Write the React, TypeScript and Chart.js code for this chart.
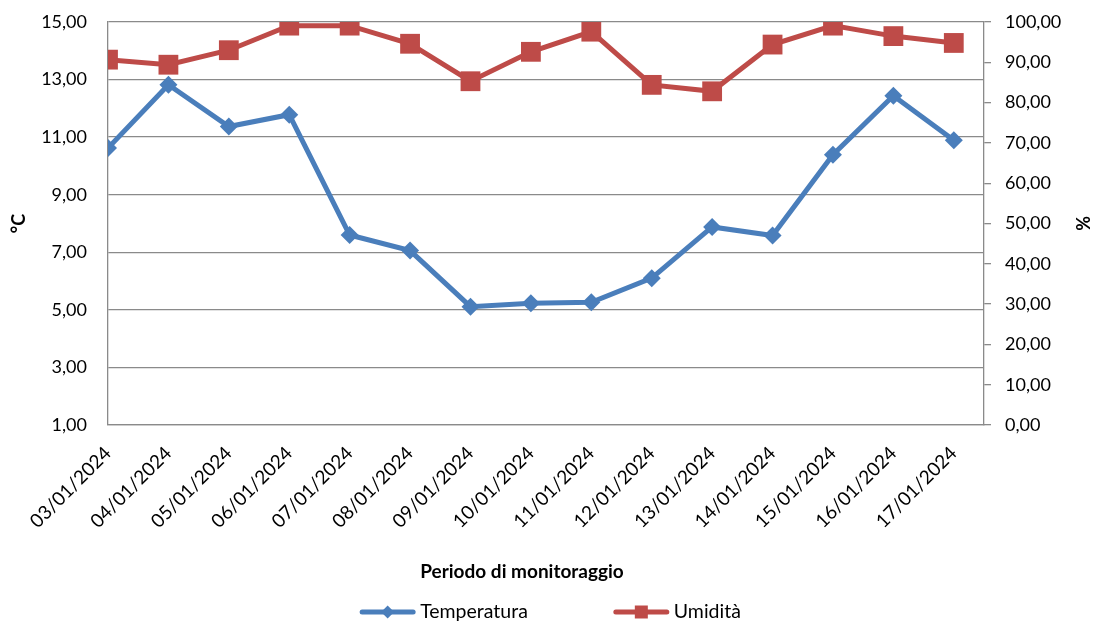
import React, { useEffect, useRef } from "react";
import { Chart, registerables } from "chart.js";

Chart.register(...registerables);

const dates = [
  "03/01/2024", "04/01/2024", "05/01/2024", "06/01/2024", "07/01/2024",
  "08/01/2024", "09/01/2024", "10/01/2024", "11/01/2024", "12/01/2024",
  "13/01/2024", "14/01/2024", "15/01/2024", "16/01/2024", "17/01/2024",
];
const temperatura = [10.62, 12.82, 11.37, 11.78, 7.6, 7.06, 5.11, 5.23, 5.26, 6.1, 7.88, 7.58, 10.39, 12.44, 10.89];
const umidita = [90.66, 89.4, 93.0, 99.1, 99.1, 94.6, 85.3, 92.6, 97.6, 84.4, 82.8, 94.4, 99.1, 96.5, 94.8];
const seriesNames = ["Temperatura", "Umidità"];
const xTitle = "Periodo di monitoraggio";
const leftTitle = "°C";
const rightTitle = "%";

const BLUE = "#4a7ebb";
const RED = "#be4b48";
const GRID = "#8a8a8a";
const FONT = "Lato";

const fmt = (v: number) => v.toFixed(2).replace(".", ",");

const overlayPlugin = {
  id: "overlay",
  afterDraw(chart: any) {
    const ctx = chart.ctx as CanvasRenderingContext2D;
    const area = chart.chartArea;
    ctx.save();
    // x axis title
    ctx.font = `bold 19px ${FONT}`;
    ctx.fillStyle = "#000";
    ctx.textAlign = "center";
    ctx.textBaseline = "middle";
    ctx.fillText(xTitle, (area.left + area.right) / 2 - 24, area.bottom + 147);

    // legend
    ctx.font = `19.5px ${FONT}`;
    const sampleW = 55;
    const gapText = 5;
    const gapItem = 86;
    const w0 = ctx.measureText(seriesNames[0]).width;
    const w1 = ctx.measureText(seriesNames[1]).width;
    const total = sampleW + gapText + w0 + gapItem + sampleW + gapText + w1;
    let x = chart.width / 2 - total / 2 + 2;
    const y = area.bottom + 187;
    const items = [
      { name: seriesNames[0], color: BLUE, shape: "diamond", w: w0 },
      { name: seriesNames[1], color: RED, shape: "square", w: w1 },
    ];
    items.forEach((it) => {
      ctx.strokeStyle = it.color;
      ctx.lineWidth = 5;
      ctx.lineCap = "round";
      ctx.beginPath();
      ctx.moveTo(x + 2, y);
      ctx.lineTo(x + sampleW - 2, y);
      ctx.stroke();
      ctx.fillStyle = it.color;
      const cx = x + sampleW / 2;
      ctx.beginPath();
      if (it.shape === "diamond") {
        ctx.moveTo(cx, y - 6.5);
        ctx.lineTo(cx + 6.5, y);
        ctx.lineTo(cx, y + 6.5);
        ctx.lineTo(cx - 6.5, y);
        ctx.closePath();
      } else {
        ctx.rect(cx - 6.5, y - 6.5, 13, 13);
      }
      ctx.fill();
      ctx.fillStyle = "#000";
      ctx.textAlign = "left";
      ctx.textBaseline = "middle";
      ctx.fillText(it.name, x + sampleW + gapText, y);
      x += sampleW + gapText + it.w + gapItem;
    });
    ctx.restore();
  },
};

export default function App() {
  const ref = useRef<HTMLCanvasElement | null>(null);
  useEffect(() => {
    if (!ref.current) return;
    const chart = new Chart(ref.current, {
      type: "line",
      data: {
        datasets: [
          {
            label: seriesNames[0],
            data: temperatura.map((v, i) => ({ x: i, y: v })),
            yAxisID: "y",
            borderColor: BLUE,
            backgroundColor: BLUE,
            borderWidth: 5,
            pointStyle: "rectRot",
            pointRadius: 9,
            pointBorderWidth: 0,
            pointBackgroundColor: BLUE,
            tension: 0,
          },
          {
            label: seriesNames[1],
            data: umidita.map((v, i) => ({ x: i, y: v })),
            yAxisID: "y1",
            borderColor: RED,
            backgroundColor: RED,
            borderWidth: 5,
            pointStyle: "rect",
            pointRadius: 14,
            pointBorderWidth: 0,
            pointBackgroundColor: RED,
            tension: 0,
          },
        ],
      },
      plugins: [overlayPlugin],
      options: {
        animation: false,
        responsive: true,
        maintainAspectRatio: false,
        layout: { padding: { top: 22, bottom: 0, left: 0, right: 0 } },
        plugins: {
          legend: { display: false },
          tooltip: { enabled: false },
        },
        scales: {
          x: {
            type: "linear",
            position: "bottom",
            min: 0,
            max: 14.5,
            afterBuildTicks: (scale: any) => {
              scale.ticks = dates.map((_, i) => ({ value: i }));
            },
            afterFit: (scale: any) => {
              scale.height = 198;
              scale.paddingLeft = 0;
              scale.paddingRight = 0;
            },
            ticks: {
              autoSkip: false,
              minRotation: 45,
              maxRotation: 45,
              padding: 17,
              color: "#000",
              font: { family: FONT, size: 19 },
              callback: (v: any) => dates[Number(v)] ?? "",
            },
            grid: { display: false, drawTicks: false },
            border: { display: true, color: GRID, width: 1.3 },
          },
          y: {
            type: "linear",
            position: "left",
            min: 1,
            max: 15,
            afterBuildTicks: (scale: any) => {
              const t = [];
              for (let v = 1; v <= 15; v += 2) t.push({ value: v });
              scale.ticks = t;
            },
            afterFit: (scale: any) => {
              scale.width = 108;
              scale.paddingTop = 0;
              scale.paddingBottom = 0;
            },
            ticks: {
              padding: 21,
              color: "#000",
              font: { family: FONT, size: 18 },
              callback: (v: any) => fmt(Number(v)),
            },
            grid: { color: GRID, lineWidth: 1.3, drawTicks: false },
            border: { display: true, color: GRID, width: 1.3 },
            title: {
              display: true,
              text: leftTitle,
              color: "#000",
              font: { family: FONT, size: 18, weight: "bold" },
              padding: { top: 8, bottom: 0 },
            },
          },
          y1: {
            type: "linear",
            position: "right",
            min: 0,
            max: 100,
            afterBuildTicks: (scale: any) => {
              const t = [];
              for (let v = 0; v <= 100; v += 10) t.push({ value: v });
              scale.ticks = t;
            },
            afterFit: (scale: any) => {
              scale.width = 113;
              scale.paddingTop = 0;
              scale.paddingBottom = 0;
            },
            ticks: {
              padding: 14,
              color: "#000",
              font: { family: FONT, size: 18 },
              callback: (v: any) => fmt(Number(v)),
            },
            grid: { drawOnChartArea: false, color: GRID, lineWidth: 1.3, tickLength: 7, drawTicks: true },
            border: { display: true, color: GRID, width: 1.3 },
            title: {
              display: true,
              text: rightTitle,
              color: "#000",
              font: { family: FONT, size: 18, weight: "bold" },
              padding: { top: 4, bottom: 0 },
            },
          },
        },
      } as any,
    });
    return () => chart.destroy();
  }, []);

  return (
    <div style={{ position: "fixed", left: 0, top: 0, width: 1097, height: 623, background: "#fff" }}>
      <canvas ref={ref} />
    </div>
  );
}
